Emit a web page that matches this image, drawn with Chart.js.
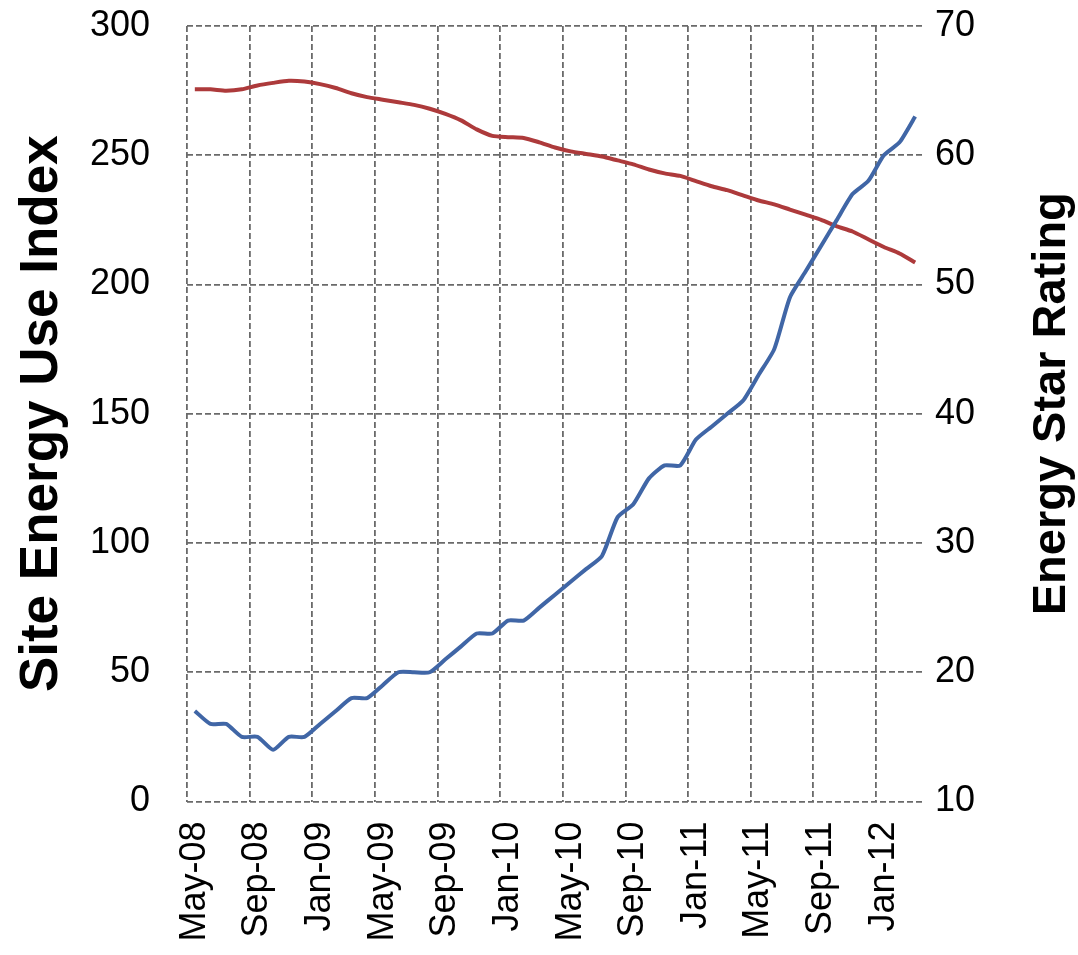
<!DOCTYPE html>
<html><head><meta charset="utf-8">
<script src="https://cdn.jsdelivr.net/npm/chart.js@4.4.0/dist/chart.umd.min.js"></script>
<style>html,body{margin:0;padding:0;background:#fff}</style>
</head><body>
<canvas id="c" width="1078" height="955"></canvas>
<script>
const months = ['May-08','Jun-08','Jul-08','Aug-08','Sep-08','Oct-08','Nov-08','Dec-08',
  'Jan-09','Feb-09','Mar-09','Apr-09','May-09','Jun-09','Jul-09','Aug-09','Sep-09','Oct-09','Nov-09','Dec-09',
  'Jan-10','Feb-10','Mar-10','Apr-10','May-10','Jun-10','Jul-10','Aug-10','Sep-10','Oct-10','Nov-10','Dec-10',
  'Jan-11','Feb-11','Mar-11','Apr-11','May-11','Jun-11','Jul-11','Aug-11','Sep-11','Oct-11','Nov-11','Dec-11',
  'Jan-12','Feb-12','Mar-12'];
const siteEUI = [275.5,275.5,275,275.5,277,278,278.8,278.5,277.5,276,274,272.5,271.5,270.5,269.5,268,
  266,263.5,260,257.5,257,256.7,255,253,251.5,250.5,249.5,248,246.5,244.5,243,242,240,238,236.5,234.5,
  232.5,231,229,227,225,222.5,220.5,217.5,214.5,212,208.5];
const energyStar = [17,16,16,15,15,14,15,15,16,17,18,18,19,20,20,20,21,22,23,23,24,24,25,26,27,28,29,32,
  33,35,36,36,38,39,40,41,43,45,49,51,53,55,57,58,60,61,63];
const leftTicks = {min:0, max:300, step:50};
const rightTicks = {min:10, max:70, step:10};
const leftTitle = 'Site Energy Use Index';
const rightTitle = 'Energy Star Rating';
const labelEvery = 4;

const GRID = '#6a6a6a';
const titlePlugin = {
  id:'titles',
  afterDraw(chart){
    const {ctx, chartArea:a} = chart;
    const mid = (a.top+a.bottom)/2;
    ctx.save();
    ctx.fillStyle = '#000';
    ctx.font = 'bold 53px "Liberation Sans"';
    ctx.textAlign = 'center';
    ctx.textBaseline = 'middle';
    ctx.translate(42, mid);
    ctx.rotate(-Math.PI/2);
    ctx.fillText(leftTitle, 0, 0);
    ctx.restore();
    ctx.save();
    ctx.fillStyle = '#000';
    ctx.font = 'bold 47px "Liberation Sans"';
    ctx.textAlign = 'center';
    ctx.textBaseline = 'middle';
    ctx.translate(1052, mid - 10);
    ctx.rotate(-Math.PI/2);
    ctx.fillText(rightTitle, 0, 0);
    ctx.restore();
  }
};

new Chart(document.getElementById('c'), {
  type:'line',
  data:{
    labels: months,
    datasets:[
      {label:leftTitle, data:siteEUI, yAxisID:'y', borderColor:'#AD3A3B', borderWidth:4, pointRadius:0, tension:0.2, order:2},
      {label:rightTitle, data:energyStar, yAxisID:'y1', borderColor:'#4066A6', borderWidth:4, pointRadius:0, tension:0.2, order:1}
    ]
  },
  options:{
    responsive:false, animation:false, devicePixelRatio:1,
    layout:{padding:{top:26, bottom:0, left:0, right:0}},
    plugins:{legend:{display:false}, tooltip:{enabled:false}},
    scales:{
      x:{
        offset:true,
        afterFit(s){ s.height = 153.5; s.paddingLeft = 0; s.paddingRight = 0; s.paddingTop = 0; s.paddingBottom = 0; },
        border:{display:false, dash:[6,3]},
        grid:{offset:true, drawTicks:false, lineWidth:1.8,
          color:(c)=> (c.index % labelEvery === 0 || c.index === months.length) ? GRID : 'rgba(0,0,0,0)'},
        ticks:{autoSkip:false, minRotation:90, maxRotation:90, padding:20, color:'#000',
          font:{family:'Liberation Sans', size:36},
          callback:(v,i)=> i % labelEvery === 0 ? months[i] : ''}
      },
      y:{
        position:'left', min:leftTicks.min, max:leftTicks.max,
        afterFit(s){ s.width = 187; s.paddingTop = 0; s.paddingBottom = 0; },
        border:{display:false, dash:[6,3]},
        grid:{drawTicks:false, color:GRID, lineWidth:1.8},
        ticks:{stepSize:leftTicks.step, padding:37, color:'#000', font:{family:'Liberation Sans', size:36}}
      },
      y1:{
        position:'right', min:rightTicks.min, max:rightTicks.max,
        afterFit(s){ s.width = 155; s.paddingTop = 0; s.paddingBottom = 0; },
        border:{display:false},
        grid:{display:false, drawTicks:false},
        ticks:{stepSize:rightTicks.step, padding:12, color:'#000', font:{family:'Liberation Sans', size:36}}
      }
    }
  },
  plugins:[titlePlugin]
});
</script>
</body></html>
